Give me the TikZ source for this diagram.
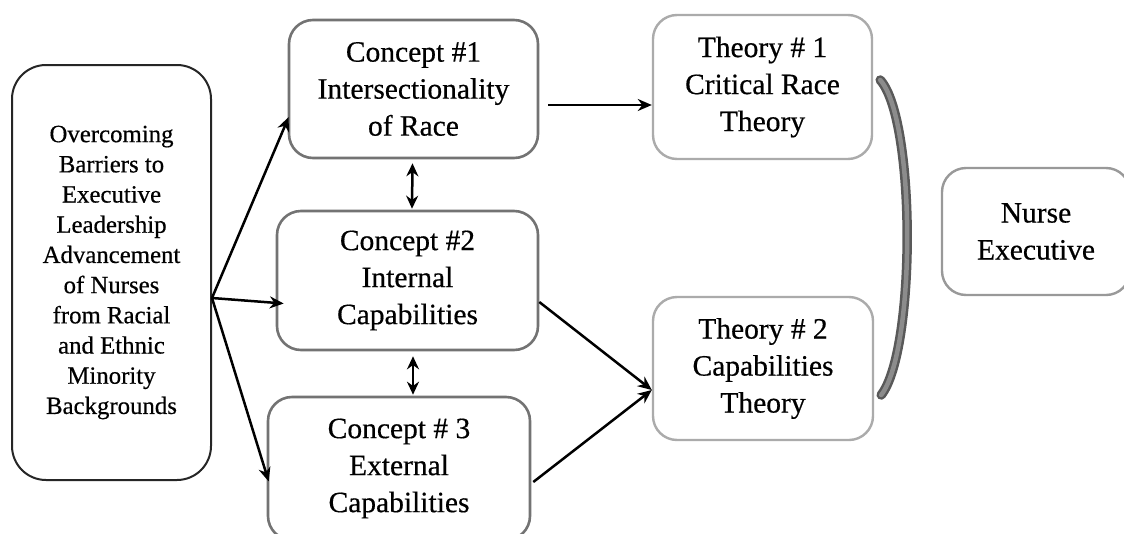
\documentclass[tikz,border=0pt]{standalone}
\usepackage{fontspec}
\setmainfont{Liberation Serif}
\newfontfamily\tnr{Liberation Serif}[FakeBold=0.5]
\usetikzlibrary{arrows.meta,calc}
\begin{document}
\begin{tikzpicture}[x=1pt,y=-1pt,
  base/.style={rounded corners=24pt,inner sep=0pt,align=center,fill=white},
  big/.style={font=\tnr\fontsize{29.5}{37}\selectfont},
  leftbox/.style={base,draw=black!85,line width=2pt,rounded corners=34pt,font=\tnr\fontsize{24.8}{30.2}\selectfont},
  conbox/.style={base,big,draw=black!55,line width=2.6pt},
  thbox/.style={base,big,draw=black!33,line width=2.4pt},
  arr/.style={line width=2.5pt,-{Stealth[length=14pt,width=12pt]}},
  darr/.style={line width=2.5pt,{Stealth[length=13pt,width=12pt]}-{Stealth[length=13pt,width=12pt]}}
]
\useasboundingbox (0,0) rectangle (1124,533);
\clip (0,0) rectangle (1124,533);
\fill[white] (0,0) rectangle (1124,533);

\node[leftbox,minimum width=199pt,minimum height=415pt] (L) at (111.5,272.5)
  {Overcoming\\Barriers to\\Executive\\Leadership\\Advancement\\of Nurses\\from Racial\\and Ethnic\\Minority\\Backgrounds};

\node[conbox,minimum width=249pt,minimum height=138pt] (C1) at (413.5,89)
  {Concept \#1\\Intersectionality\\of Race};
\node[conbox,minimum width=261pt,minimum height=139pt] (C2) at (407.5,280.5)
  {Concept \#2\\Internal\\Capabilities};
\node[conbox,minimum width=262pt,minimum height=143pt] (C3) at (399,468.5)
  {Concept \# 3\\External\\Capabilities};

\node[thbox,minimum width=219pt,minimum height=144pt] (T1) at (762.5,87)
  {Theory \# 1\\Critical Race\\Theory};
\node[thbox,minimum width=220pt,minimum height=143pt] (T2) at (763,368.5)
  {Theory \# 2\\Capabilities\\Theory};
\node[thbox,draw=black!40,minimum width=188pt,minimum height=127pt] (NE) at (1036,231.5)
  {Nurse\\Executive};

% connectors
\coordinate (Lo) at ($(L.east)+(0,25.5)$);
\coordinate (C1in) at ($(C1.west)+(1,28)$);
\coordinate (C2in) at ($(C2.west)+(8,23)$);
\coordinate (C3in) at ($(C3.west)+(2,13)$);
\draw[arr] (Lo) -- (C1in);
\draw[arr] (Lo) -- (C2in);
\draw[arr] (Lo) -- (C3in);

\coordinate (C1b) at ($(C1.south)+(-1,4)$);
\coordinate (C2t) at ($(C2.north)+(4.5,-1)$);
\draw[darr] (C1b) -- (C2t);
\coordinate (C2b) at ($(C2.south)+(5.5,5)$);
\coordinate (C3t) at ($(C3.north)+(14,-1)$);
\draw[darr] (C2b) -- (C3t);

\coordinate (C1o) at ($(C1.east)+(9,16)$);
\coordinate (T1in) at ($(T1.west)+(0,18)$);
\draw[arr] (C1o) -- (T1in);

\coordinate (C2o) at ($(C2.east)+(0,21.5)$);
\coordinate (C3o) at ($(C3.east)+(2,13.5)$);
\coordinate (T2in) at ($(T2.west)+(0,21.5)$);
\draw[arr] (C2o) -- (T2in);
\draw[arr] (C3o) -- (T2in);

% bracket
\coordinate (Bt) at ($(T1.east)+(7,-7)$);
\coordinate (Bb) at ($(T2.east)+(7,26.5)$);
\draw[line width=9.5pt,black!65,line cap=round] (Bt) .. controls (916,120) and (916,350) .. (Bb);
\draw[line width=4.5pt,black!45,line cap=round] (Bt) .. controls (916,120) and (916,350) .. (Bb);
\end{tikzpicture}
\end{document}
